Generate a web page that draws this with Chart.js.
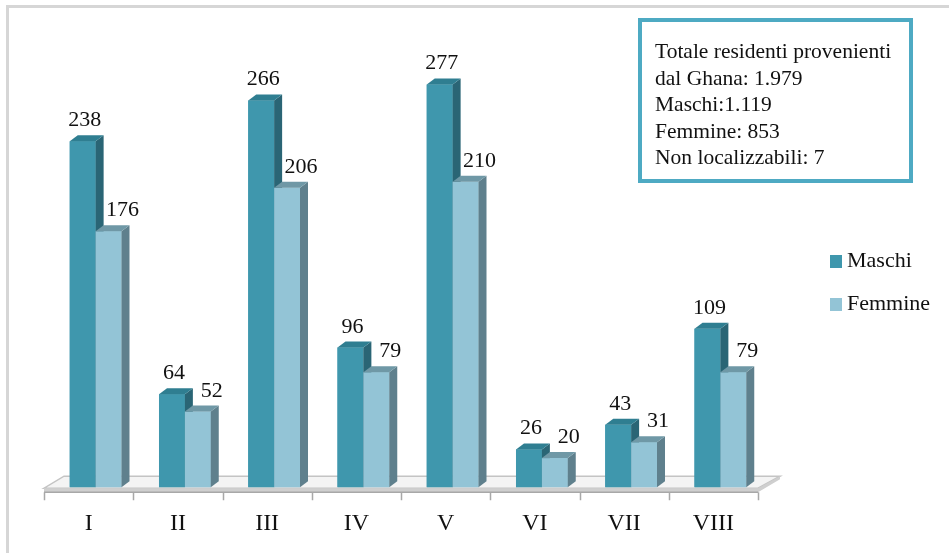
<!DOCTYPE html>
<html>
<head>
<meta charset="utf-8">
<script src="https://cdn.jsdelivr.net/npm/chart.js@4"></script>
<style>
  html, body { margin: 0; padding: 0; background: #fff; }
  #wrap { position: relative; width: 949px; height: 553px; overflow: hidden; }
  #frame { position: absolute; left: 6px; top: 5px; width: 1000px; height: 600px;
           border-left: 3px solid #d6d6d6; border-top: 3px solid #d6d6d6; }
  #note { position: absolute; left: 638px; top: 18px; width: 267px; height: 157px;
          border: 4px solid #4eaac3; box-sizing: content-box;
          font-family: "Liberation Serif", serif; font-size: 21.5px; line-height: 26.5px;
          color: #111; padding: 0; }
  #note div { position: relative; left: 13px; top: 16px; white-space: nowrap; }
  canvas { position: absolute; left: 0; top: 0; }
</style>
</head>
<body>
<div id="wrap">
  <div id="frame"></div>
  <canvas id="chart" width="949" height="553"></canvas>
  <div id="note">
    <div>Totale residenti provenienti<br>dal Ghana: 1.979<br>Maschi:1.119<br>Femmine: 853<br>Non localizzabili: 7</div>
  </div>
</div>
<script>
const categories = ['I', 'II', 'III', 'IV', 'V', 'VI', 'VII', 'VIII'];
const maschi = [238, 64, 266, 96, 277, 26, 43, 109];
const femmine = [176, 52, 206, 79, 210, 20, 31, 79];
const seriesNames = ['Maschi', 'Femmine'];

const FONT = '"Liberation Serif", serif';
const SHIFT = 7;          // bars sit a bit behind the axis labels
const DX = 8, DY = -6;    // bar depth

const colors = [
  { front: '#3f97ad', side: '#2a6575', top: '#2f7e91' },
  { front: '#93c4d6', side: '#5f808d', top: '#6f98a6' }
];

const bars3d = {
  id: 'bars3d',
  beforeDatasetsDraw(chart) {
    const ctx = chart.ctx;
    const a = chart.chartArea;
    const y0 = a.bottom + 1;
    ctx.save();
    // floor top
    ctx.beginPath();
    ctx.moveTo(a.left, y0);
    ctx.lineTo(a.right, y0);
    ctx.lineTo(a.right + 22, y0 - 12);
    ctx.lineTo(a.left + 20, y0 - 12);
    ctx.closePath();
    ctx.fillStyle = '#f4f4f4';
    ctx.fill();
    ctx.strokeStyle = '#c4c4c4';
    ctx.lineWidth = 1.5;
    ctx.stroke();
    // floor front
    ctx.beginPath();
    ctx.moveTo(a.left, y0);
    ctx.lineTo(a.right, y0);
    ctx.lineTo(a.right + 22, y0 - 12);
    ctx.lineTo(a.right + 22, y0 - 9);
    ctx.lineTo(a.right, y0 + 4);
    ctx.lineTo(a.left, y0 + 4);
    ctx.closePath();
    ctx.fillStyle = '#cfcfcf';
    ctx.fill();
    // axis ticks
    ctx.strokeStyle = '#a8a8a8';
    ctx.lineWidth = 1.5;
    ctx.beginPath();
    ctx.moveTo(a.left, y0 + 4);
    ctx.lineTo(a.right, y0 + 4);
    const step = (a.right - a.left) / categories.length;
    for (let i = 0; i <= categories.length; i++) {
      const x = Math.round(a.left + i * step) + 0.5;
      ctx.moveTo(x, y0 + 4);
      ctx.lineTo(x, y0 + 12);
    }
    ctx.stroke();
    ctx.restore();
    ctx.save();
    ctx.translate(SHIFT, 0);
  },
  afterDatasetsDraw(chart) {
    const ctx = chart.ctx;
    // redraw bars series by series so Femmine covers the Maschi side faces
    chart.data.datasets.forEach((ds, i) => {
      const c = colors[i];
      chart.getDatasetMeta(i).data.forEach(bar => {
        bar.draw(ctx, chart.chartArea);
        const p = bar.getProps(['x', 'y', 'width', 'base'], true);
        const l = p.x - p.width / 2, r = p.x + p.width / 2;
        ctx.beginPath();
        ctx.moveTo(r, p.y);
        ctx.lineTo(r + DX, p.y + DY);
        ctx.lineTo(r + DX, p.base + DY);
        ctx.lineTo(r, p.base);
        ctx.closePath();
        ctx.fillStyle = c.side;
        ctx.fill();
        ctx.beginPath();
        ctx.moveTo(l, p.y);
        ctx.lineTo(l + DX, p.y + DY);
        ctx.lineTo(r + DX, p.y + DY);
        ctx.lineTo(r, p.y);
        ctx.closePath();
        ctx.fillStyle = c.top;
        ctx.fill();
      });
    });
    ctx.restore();

    ctx.save();
    ctx.font = '22px ' + FONT;
    ctx.fillStyle = '#111';
    ctx.textAlign = 'center';
    ctx.textBaseline = 'alphabetic';
    chart.data.datasets.forEach((ds, i) => {
      const meta = chart.getDatasetMeta(i);
      const off = i === 0 ? 2 : 14;
      meta.data.forEach((bar, j) => {
        ctx.fillText(String(ds.data[j]), bar.x + SHIFT + off, bar.y - 15);
      });
    });
    // legend
    ctx.textAlign = 'left';
    ctx.textBaseline = 'middle';
    ctx.font = '22px ' + FONT;
    chart.data.datasets.forEach((ds, i) => {
      const y = 261 + i * 43;
      ctx.fillStyle = colors[i].front;
      ctx.fillRect(830, y - 6, 12, 13);
      ctx.fillStyle = '#111';
      ctx.fillText(ds.label, 847, y);
    });
    ctx.restore();
  }
};

new Chart(document.getElementById('chart'), {
  type: 'bar',
  data: {
    labels: categories,
    datasets: [
      { label: seriesNames[0], data: maschi, backgroundColor: colors[0].front },
      { label: seriesNames[1], data: femmine, backgroundColor: colors[1].front }
    ]
  },
  options: {
    responsive: false,
    animation: false,
    events: [],
    layout: { padding: { left: 44, right: 191, top: 51, bottom: -7 } },
    categoryPercentage: 0.58,
    barPercentage: 1,
    plugins: { legend: { display: false }, tooltip: { enabled: false } },
    scales: {
      x: {
        grid: { display: false, drawTicks: false },
        border: { display: false },
        ticks: { font: { family: FONT, size: 24 }, color: '#111', padding: 22 }
      },
      y: { display: false, min: 0, max: 300 }
    }
  },
  plugins: [bars3d]
});
</script>
</body>
</html>
